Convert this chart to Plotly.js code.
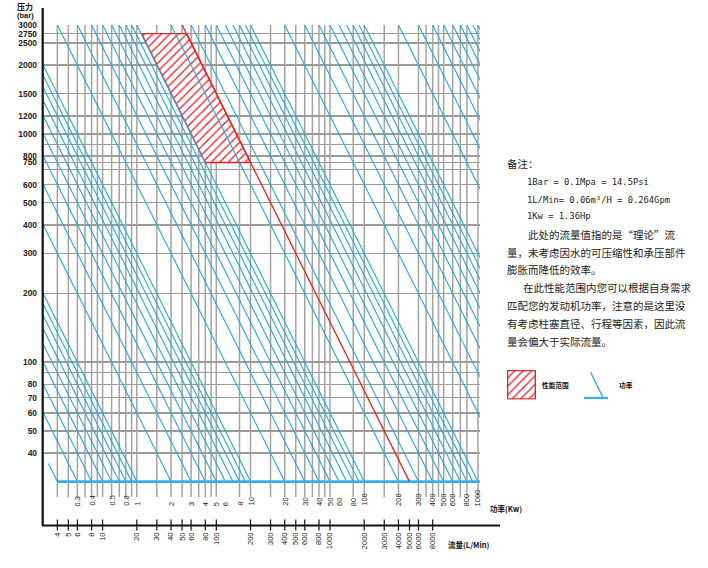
<!DOCTYPE html>
<html><head><meta charset="utf-8">
<script src="https://cdn.plot.ly/plotly-3.0.1.min.js"></script>
<style>html,body{margin:0;padding:0;background:#fff}</style>
</head><body><div id="chart" style="width:708px;height:568px"></div>
<script>
// ---------- data ----------
const pressureTicks  = [3000,2750,2500,2000,1500,1200,1000,900,800,750,700,600,500,400,300,200,100,90,80,70,60,50,40];
const pressureLabels = ['3000','2750','2500','2000','1500','1200','1000','','800','750','','600','500','400','300','200','100','','80','70','60','50','40'];
const flowTicks  = [4,5,6,8,10,20,30,40,50,60,80,100,200,300,400,500,600,800,1000,2000,3000,4000,5000,6000,8000];
const flowLabels = ['4','5','6','8','10','20','30','40','50','60','80','100','200','300','400','500','600','800','1000','2000','3000','4000','5000','6000','8000'];
const powerTickVals = [0.3,0.4,0.6,0.8,1,2,3,4,5,6,8,10,20,30,40,50,60,80,100,200,300,400,500,600,800,1000];
const powerTickText = ['0.3','0.4','0.5','0.8','1','2','3','4','5','6','8','10','20','30','40','50','60','80','100','200','300','400','500','600','800','1000'];
const flowGrid = [4,5,6,7,8,9,10,12,14,16,18,20,30,40,50,60,70,80,90,100,160,200,300,400,500,600,700,800,900,1000,1600,2000,3000,4000,6000,7000,8000,9000,10000,12000,14000,16000,20000];
const powerLines = [0.3,0.4,0.5,0.6,0.7,0.8,0.9,1,2,3,4,5,6,7,8,9,10,20,30,40,50,60,70,80,90,100,200,300,400,500,600,700,800,900,1000,2000,3000,4000,5000,6000,7000,8000,9000,10000,20000,30000,40000,50000,60000,70000,80000,90000,100000];
const shortPower = 0.2, shortFromPressure = 36;
const basePressure = 30, topPressure = 3000;
const regionFlow = [22,55,200,80], regionPressure = [2750,2750,750,750];
const redLinePower = 250;

// ---------- helpers ----------
const W = 708, H = 568;
const px = x => x / W, py = y => 1 - y / H;
const flowAt = (P, p) => 600 * P / p;   // L/min for power (kW) at pressure (bar)
const xr = [0.4758, 4.3193], yr = [1.2871, 3.4771];
const gridBottom = Math.pow(10, 1.4097);

const gx = [], gy = [];
flowGrid.forEach(f => { gx.push(f, f, null); gy.push(topPressure, gridBottom, null); });
const bx = [], by = [];
powerLines.forEach(P => { bx.push(flowAt(P, topPressure), flowAt(P, basePressure), null); by.push(topPressure, basePressure, null); });

const blue = '#22a7e0', red = '#e8202a';
const pattern = {shape:'/', size:6, solidity:0.22, fgcolor:red, bgcolor:'#ffffff'};

const traces = [
  {x:gx, y:gy, mode:'lines', line:{color:'#a3a3a3', width:1.5}, hoverinfo:'skip'},
  {x:regionFlow.concat([regionFlow[0]]), y:regionPressure.concat([regionPressure[0]]), mode:'lines', fill:'toself', fillcolor:'#ffffff', fillpattern:pattern, line:{color:red, width:1.4}, hoverinfo:'skip'},
  {x:bx, y:by, mode:'lines', line:{color:blue, width:1.1}, hoverinfo:'skip'},
  {x:[flowAt(shortPower, shortFromPressure), flowAt(shortPower, basePressure)], y:[shortFromPressure, basePressure], mode:'lines', line:{color:blue, width:1.1}, hoverinfo:'skip'},
  {x:[flowAt(shortPower, basePressure), Math.pow(10, xr[1])], y:[basePressure, basePressure], mode:'lines', line:{color:'#35b0e6', width:2.6}, hoverinfo:'skip'},
  {x:[flowAt(redLinePower, topPressure), flowAt(redLinePower, basePressure)], y:[topPressure, basePressure], mode:'lines', line:{color:red, width:1.3}, hoverinfo:'skip'},
  {x:flowTicks, y:flowTicks.map(() => Math.pow(10, yr[0])), mode:'markers', cliponaxis:false, marker:{symbol:'line-ns', size:8, line:{color:'#111', width:1.2}}, hoverinfo:'skip'},
  {x:[0,1,1,0,0], y:[0,0,1,1,0], xaxis:'x2', yaxis:'y2', mode:'lines', fill:'toself', fillcolor:'#ffffff', fillpattern:pattern, line:{color:red, width:1.5}, hoverinfo:'skip'}
];

const cjk = 'Noto Sans CJK SC, sans-serif';
const ann = [];
powerTickVals.forEach((P, i) => ann.push({x:Math.log10(flowAt(P, basePressure)), xref:'x', y:py(508), yref:'paper', text:powerTickText[i], textangle:-90, showarrow:false, font:{family:'Liberation Sans, Arial, sans-serif', size:7.5, color:'#222'}}));
const txt = (x, y, t, f, anchor) => ann.push({x:px(x), y:py(y), xref:'paper', yref:'paper', text:t, showarrow:false, xanchor:anchor || 'left', yanchor:'middle', font:f});
const small = {family:cjk, size:7.5, color:'#111', weight:'bold'};
txt(488, 508, '功率(Kw)', small);
txt(446, 544, '流量(L/Min)', small);
txt(25, 6.5, '压力', {family:cjk, size:8, color:'#111', weight:'bold'}, 'center');
txt(25, 15.5, '(bar)', {family:'Liberation Sans, Arial', size:7.5, color:'#111', weight:'bold'}, 'center');
const note = {family:cjk, size:10.5, color:'#222'};
const mono = {family:'DejaVu Sans Mono, monospace', size:8.8, color:'#222'};
txt(505, 163, '备注：', note);
txt(525, 182, '1Bar = 0.1Mpa = 14.5Psi', mono);
txt(525, 199.5, '1L/Min= 0.06m³/H = 0.264Gpm', mono);
txt(525, 216, '1Kw = 1.36Hp', mono);
txt(526, 234, '此处的流量值指的是“理论”流', note);
txt(505, 252.5, '量，未考虑因水的可压缩性和承压部件', note);
txt(505, 269.5, '膨胀而降低的效率。', note);
txt(521, 287, '在此性能范围内您可以根据自身需求', note);
txt(505, 305, '匹配您的发动机功率，注意的是这里没', note);
txt(505, 323.5, '有考虑柱塞直径、行程等因素，因此流', note);
txt(505, 341.5, '量会偏大于实际流量。', note);
txt(540, 385, '性能范围', {family:cjk, size:6.7, color:'#111', weight:'bold'});
txt(617, 385, '功率', {family:cjk, size:6.7, color:'#111', weight:'bold'});

const shapes = [
  {type:'line', xref:'paper', yref:'paper', x0:px(42.7), x1:px(42.7), y0:py(8), y1:py(526), line:{color:'#111', width:2.2}},
  {type:'line', xref:'paper', yref:'paper', x0:px(42), x1:px(500), y0:py(525.5), y1:py(525.5), line:{color:'#111', width:2.2}},
  {type:'line', xref:'paper', yref:'paper', x0:px(590.5), x1:px(603), y0:py(372), y1:py(397.5), line:{color:blue, width:1.3}},
  {type:'line', xref:'paper', yref:'paper', x0:px(584), x1:px(608), y0:py(398), y1:py(398), line:{color:'#35b0e6', width:2.2}}
];

const layout = {
  width:W, height:H, margin:{l:0, r:0, t:0, b:0}, paper_bgcolor:'#fff', plot_bgcolor:'#fff', showlegend:false,
  xaxis:{type:'log', domain:[px(43), px(480)], range:xr, tickvals:flowTicks, ticktext:flowLabels, tickangle:-90,
         tickfont:{family:'Liberation Sans, Arial, sans-serif', size:7.5, color:'#222'}, ticks:'', showgrid:false, zeroline:false, showline:false, ticklabelstandoff:5},
  yaxis:{type:'log', domain:[py(525), py(25)], range:yr, tickvals:pressureTicks, ticktext:pressureLabels,
         tickfont:{family:'Liberation Sans, Arial, sans-serif', size:8.4, weight:'bold', color:'#222'}, ticks:'', showgrid:true, gridcolor:'#9a9a9a', gridwidth:1.5, zeroline:false, showline:false, ticklabelstandoff:5},
  xaxis2:{domain:[px(507), px(536)], range:[-0.02, 1.02], visible:false, anchor:'y2'},
  yaxis2:{domain:[py(399.5), py(370)], range:[-0.02, 1.02], visible:false, anchor:'x2'},
  shapes:shapes, annotations:ann
};
Plotly.newPlot('chart', traces, layout, {staticPlot:true, displayModeBar:false});
</script></body></html>
